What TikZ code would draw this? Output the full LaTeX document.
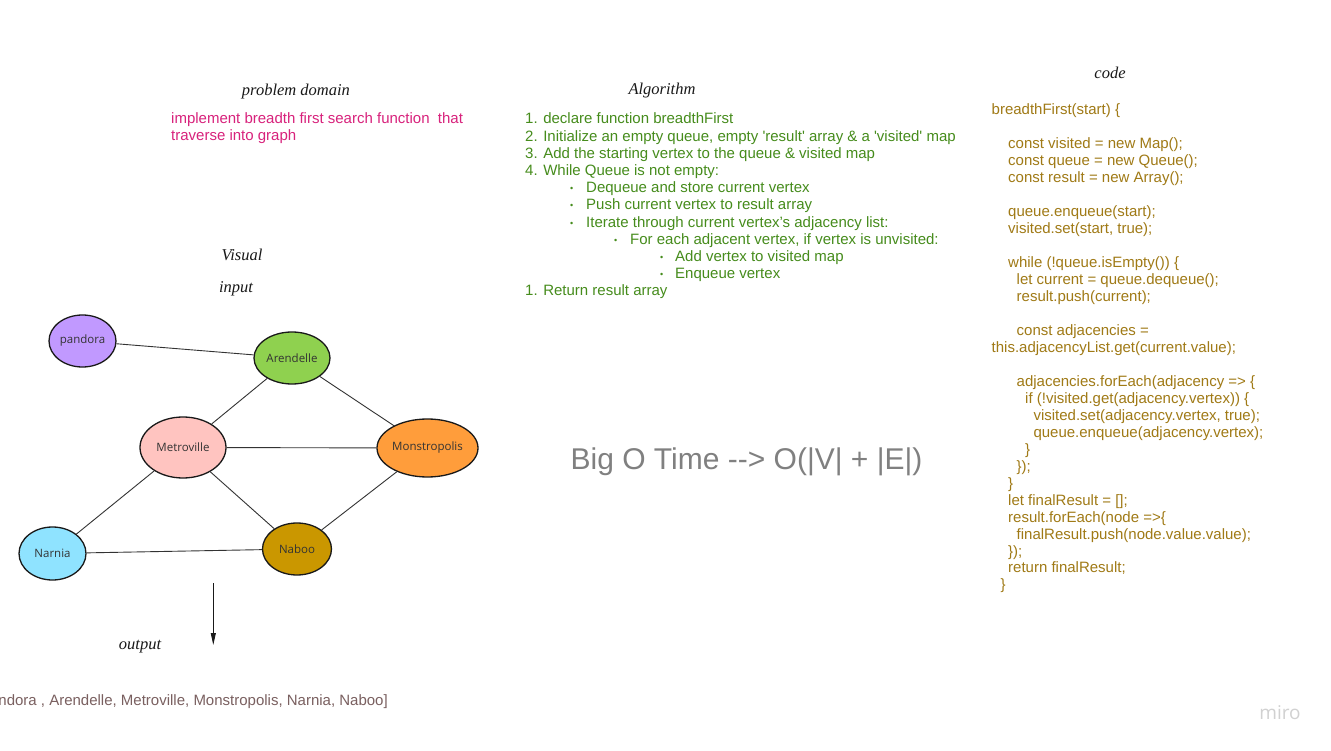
\documentclass[tikz,border=0pt]{standalone}
\usepackage{fontspec}
\setmainfont{Liberation Sans}
\newfontfamily\hand{Liberation Serif}
\newfontfamily\opensans{Open Sans}
\usetikzlibrary{arrows.meta,shapes.geometric}
\definecolor{pdpink}{RGB}{216,34,124}
\definecolor{alggreen}{RGB}{70,140,28}
\definecolor{codegold}{RGB}{160,122,22}
\definecolor{bigogrey}{RGB}{128,128,128}
\definecolor{outbrown}{RGB}{122,96,96}
\definecolor{cpandora}{RGB}{193,153,255}
\definecolor{carendelle}{RGB}{143,209,79}
\definecolor{cmetro}{RGB}{255,196,192}
\definecolor{cmonstro}{RGB}{255,157,59}
\definecolor{cnarnia}{RGB}{143,227,255}
\definecolor{cnaboo}{RGB}{202,151,0}
\tikzset{
  head/.style={font=\hand\itshape\fontsize{16.5}{19}\selectfont, text=black!90, inner sep=0},
  txt/.style={anchor=base west, inner sep=0, font=\fontsize{15}{18}\selectfont},
  pd/.style={txt, text=pdpink},
  alg/.style={txt, text=alggreen},
  bul/.style={anchor=base west, inner sep=0, font=\fontsize{9}{10}\selectfont, text=alggreen},
  codeline/.style={txt, text=codegold},
  vert/.style={ellipse, draw=black!90, line width=1.3pt, inner sep=0},
  vlab/.style={font=\opensans\fontsize{11.5}{13}\selectfont, text=black!80},
  edge/.style={draw=black!80, line width=0.9pt},
}
\begin{document}
\begin{tikzpicture}[x=1pt,y=-1pt]
\useasboundingbox (0,0) rectangle (1331,751);
\fill[white] (0,0) rectangle (1331,751);

% headings
\node[head] (hpd) at (296,92) {problem domain};
\node[head] (halg) at (662,91) {Algorithm};
\node[head] (hcode) at (1110,73) {code};
\node[head] (hvis) at (242,255) {Visual};
\node[head] (hin) at (236,289) {input};
\node[head] (hout) at (140,647) {output};

% problem domain
\node[pd] (pd1) at (171,124) {implement breadth first search function\ \ that};
\node[pd] (pd2) at (171,141) {traverse into graph};

% algorithm
\node[alg] (a1) at (525,124) {1. declare function breadthFirst};
\node[alg] (a2) at (525,141.2) {2. Initialize an empty queue, empty \textquotesingle result\textquotesingle\ array \& a \textquotesingle visited\textquotesingle\ map};
\node[alg] (a3) at (525,158.4) {3. Add the starting vertex to the queue \& visited map};
\node[alg] (a4) at (525,175.6) {4. While Queue is not empty:};
\node[bul] (b5) at (570,191.8) {\textbullet};
\node[alg] (a5) at (586,192.8) {Dequeue and store current vertex};
\node[bul] (b6) at (570,209) {\textbullet};
\node[alg] (a6) at (586,210) {Push current vertex to result array};
\node[bul] (b7) at (570,226.2) {\textbullet};
\node[alg] (a7) at (586,227.2) {Iterate through current vertex's adjacency list:};
\node[bul] (b8) at (614,243.4) {\textbullet};
\node[alg] (a8) at (630,244.4) {For each adjacent vertex, if vertex is unvisited:};
\node[bul] (b9) at (660,260.6) {\textbullet};
\node[alg] (a9) at (675,261.6) {Add vertex to visited map};
\node[bul] (b10) at (660,277.8) {\textbullet};
\node[alg] (a10) at (675,278.8) {Enqueue vertex};
\node[alg] (a11) at (525,296) {1. Return result array};

% code
\node[codeline] (c0) at (991.5,115) {breadthFirst(start) \{};
\node[codeline] (c2) at (1008,148.9) {const visited = new Map();};
\node[codeline] (c3) at (1008,165.9) {const queue = new Queue();};
\node[codeline] (c4) at (1008,182.8) {const result = new Array();};
\node[codeline] (c6) at (1008,216.8) {queue.enqueue(start);};
\node[codeline] (c7) at (1008,233.7) {visited.set(start, true);};
\node[codeline] (c9) at (1008,267.6) {while (!queue.isEmpty()) \{};
\node[codeline] (c10) at (1016.5,284.6) {let current = queue.dequeue();};
\node[codeline] (c11) at (1016.5,301.6) {result.push(current);};
\node[codeline] (c13) at (1016.5,335.5) {const adjacencies =};
\node[codeline] (c14) at (991.5,352.4) {this.adjacencyList.get(current.value);};
\node[codeline] (c16) at (1016.5,386.4) {adjacencies.forEach(adjacency => \{};
\node[codeline] (c17) at (1025,403.3) {if (!visited.get(adjacency.vertex)) \{};
\node[codeline] (c18) at (1033.3,420.3) {visited.set(adjacency.vertex, true);};
\node[codeline] (c19) at (1033.3,437.2) {queue.enqueue(adjacency.vertex);};
\node[codeline] (c20) at (1025,454.2) {\}};
\node[codeline] (c21) at (1016.5,471.2) {\});};
\node[codeline] (c22) at (1008,488.1) {\}};
\node[codeline] (c23) at (1008,505.1) {let finalResult = [];};
\node[codeline] (c24) at (1008,522) {result.forEach(node =>\{};
\node[codeline] (c25) at (1016.5,539) {finalResult.push(node.value.value);};
\node[codeline] (c26) at (1008,556) {\});};
\node[codeline] (c27) at (1008,572.9) {return finalResult;};
\node[codeline] (c28) at (1000.5,589.9) {\}};

% Big O
\node[inner sep=0, font=\fontsize{30}{34}\selectfont, text=bigogrey] (bigo) at (746.5,462) {Big O Time -{}-> O(|V| + |E|)};

% graph
\node[vert, fill=cpandora, minimum width=67, minimum height=52, label={[vlab]center:pandora}] (pan) at (82.5,341) {};
\node[vert, fill=carendelle, minimum width=76, minimum height=52, label={[vlab]center:Arendelle}] (are) at (292,358) {};
\node[vert, fill=cmetro, minimum width=86, minimum height=61, label={[vlab]center:Metroville}] (met) at (183,447.5) {};
\node[vert, fill=cmonstro, minimum width=101, minimum height=58, label={[vlab]center:Monstropolis}] (mon) at (427.5,448) {};
\node[vert, fill=cnarnia, minimum width=67, minimum height=53, label={[vlab]center:Narnia}] (nar) at (52.5,553.5) {};
\node[vert, fill=cnaboo, minimum width=69, minimum height=52, label={[vlab]center:Naboo}] (nab) at (297,549) {};

\draw[edge] (pan) -- (are);
\draw[edge] (are) -- (met);
\draw[edge] (are) -- (mon);
\draw[edge] (met) -- (mon);
\draw[edge] (met) -- (nar);
\draw[edge] (met) -- (nab);
\draw[edge] (mon) -- (nab);
\draw[edge] (nar) -- (nab);

% arrow
\coordinate (arrS) at (213.3,583);
\coordinate (arrE) at (213.3,645);
\draw[black!90, line width=0.9pt, -{Triangle[length=12pt,width=5pt]}] (arrS) -- (arrE);

% output
\node[anchor=base east, inner sep=0, font=\fontsize{15}{18}\selectfont, text=outbrown] (outtxt) at (388,705) {ndora , Arendelle, Metroville, Monstropolis, Narnia, Naboo]};

% logo
\node[inner sep=0, font=\opensans\fontsize{19}{22}\selectfont, text=black!18] (miro) at (1280,713) {miro};
\end{tikzpicture}
\end{document}
